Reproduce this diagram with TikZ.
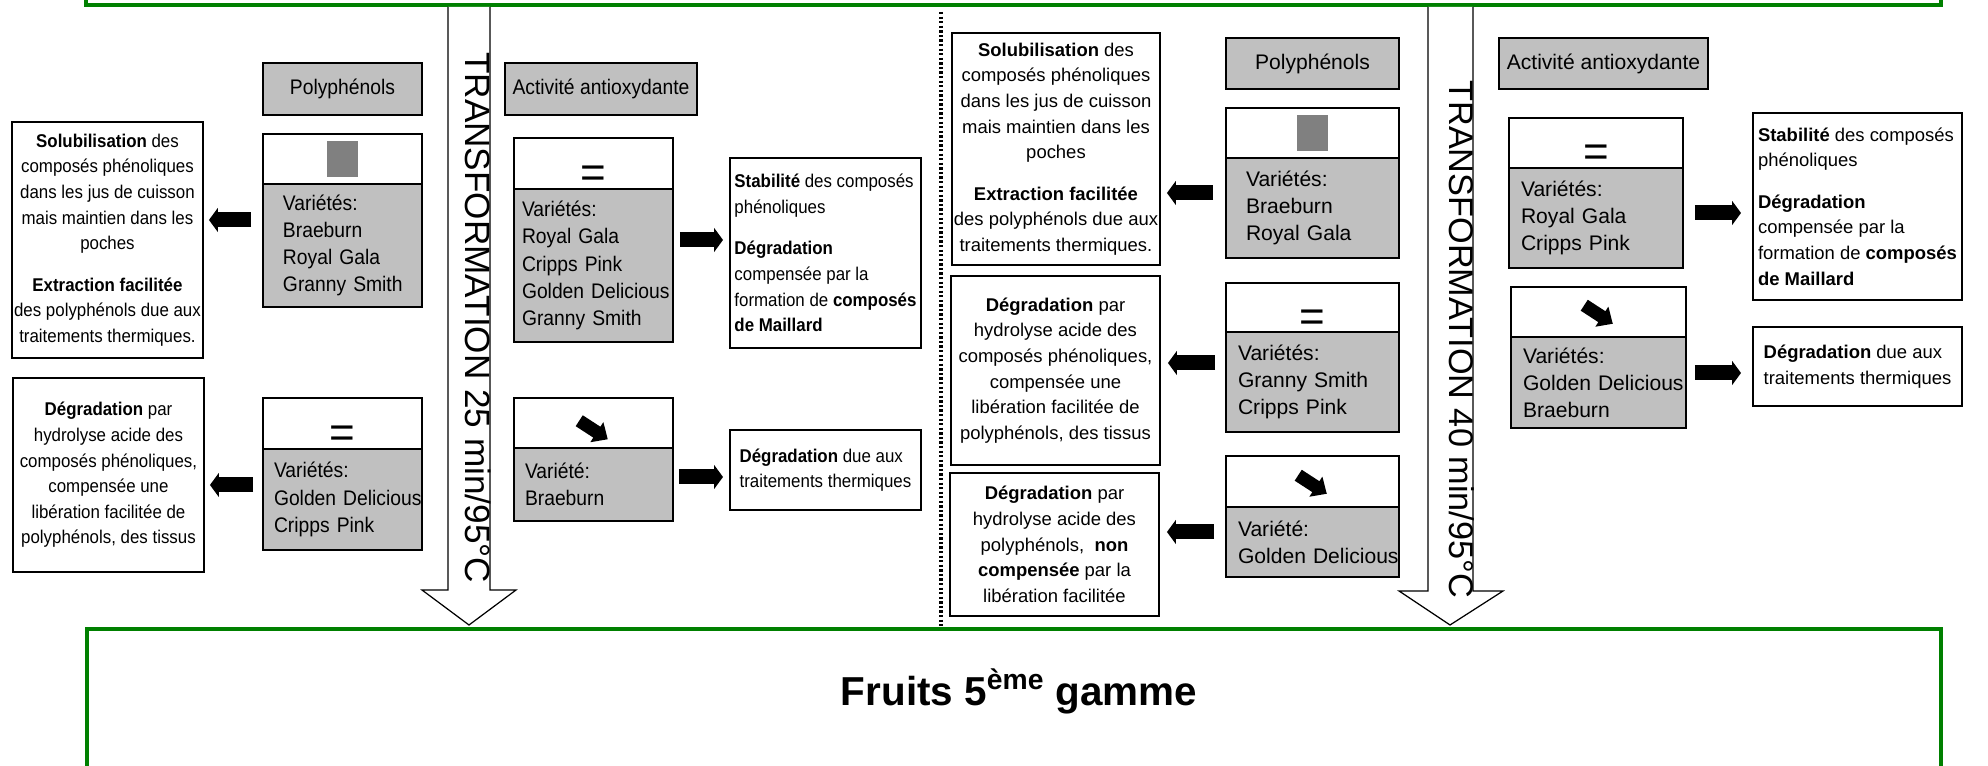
\documentclass[tikz,border=0pt]{standalone}
\usepackage{fontspec}
\setmainfont{Liberation Sans}
\newfontfamily\narrowfont[FakeStretch=0.915]{Liberation Sans}
\usetikzlibrary{arrows.meta,positioning}

\newlength\pxu
\setlength\pxu{0.02cm}

\definecolor{boxgray}{RGB}{192,192,192}
\definecolor{icongray}{RGB}{128,128,128}
\definecolor{framegreen}{RGB}{0,128,0}

\tikzset{
  lbl/.style={draw, line width=1.1pt, fill=boxgray, inner sep=0pt, outer sep=0pt, anchor=north west, font=\fontsize{12}{14}\selectfont},
  headbox/.style={draw, line width=1.1pt, fill=white, inner sep=0pt, outer sep=0pt, anchor=north west},
  bodybox/.style={draw, line width=1.1pt, fill=boxgray, inner sep=0pt, outer sep=0pt, align=left, font=\fontsize{12}{15.4}\selectfont},
  txtbox/.style={draw, line width=1.2pt, fill=white, inner sep=0pt, outer sep=0pt, anchor=north west, align=center, font=\fontsize{10.5}{14.6}\selectfont},
  lefttxt/.style={txtbox, align=left},
  eqsign/.style={font=\fontsize{25}{25}\selectfont, text height=27pt, text depth=0pt},
  sqicon/.style={fill=icongray, inner sep=0pt, minimum width=0.63cm, minimum height=0.73cm},
  fatarrow/.style={line width=0.3cm, -{Triangle[length=0.18cm, width=0.48cm]}},
  hollow/.style={draw, line width=0.7pt, fill=white},
  turn/.style={rotate=-90, anchor=base west, inner sep=0pt, font=\fontsize{20}{24}\selectfont},
  frame/.style={draw=framegreen, line width=2.2pt},
  decr/.pic={\fill (-17,-6.5) -- (4,-6.5) -- (4,-12) -- (17,0) -- (4,12) -- (4,6.5) -- (-17,6.5) -- cycle;}
}

\begin{document}
\begin{tikzpicture}[x=\pxu, y=-\pxu]
\useasboundingbox (0,0) rectangle (1988,766);

% green frames
\draw[frame] (86,-30) |- (1941,5) -- (1941,-30);
\draw[frame] (87,800) |- (1941,629) -- (1941,800);
\node[font=\bfseries\fontsize{23}{27}\selectfont] (fruits) at (1019,691) {Fruits 5\textsuperscript{ème} gamme};

% separator
\draw[line width=1.8pt, dash pattern=on 1.3pt off 1.3pt] (941,12) -- (941,627);

% transformation arrows
\draw[hollow] (448,7) -- (448,590) -- (422,590) -- (469,625) -- (516,590) -- (490,590) -- (490,7);
\node[turn] (t25) at (465,52) {TRANSFORMATION 25 min/95°C};
\draw[hollow] (1428,7) -- (1428,591) -- (1399,591) -- (1450,625) -- (1503,591) -- (1473,591) -- (1473,7);
\node[turn, font=\fontsize{19.5}{24}\selectfont] (t40) at (1449,80) {TRANSFORMATION 40 min/95°C};

% 25 min
\begin{scope}[lbl/.append style={font=\narrowfont\fontsize{12}{14}\selectfont},
  bodybox/.append style={font=\narrowfont\fontsize{12}{15.4}\selectfont},
  txtbox/.append style={font=\narrowfont\fontsize{10.5}{14.6}\selectfont}]
\node[lbl, minimum width=3.18cm, minimum height=1.04cm] (polyA) at (263,63) {Polyphénols};
\node[headbox, minimum width=3.18cm, minimum height=1cm] (p1h) at (263,134) {};
\node[sqicon] (p1i) at (p1h.center) {};
\node[bodybox, below=0pt of p1h, minimum width=3.18cm, minimum height=2.46cm, text width=2.38cm] (p1) {Variétés:\\Braeburn\\Royal Gala\\\mbox{Granny Smith}};
\node[headbox, eqsign, minimum width=3.18cm, minimum height=1.02cm] (p2h) at (263,398) {=};
\node[bodybox, below=0pt of p2h, minimum width=3.18cm, minimum height=2.02cm, text width=2.74cm] (p2) {Variétés:\\\mbox{Golden Delicious}\\Cripps Pink};
\node[txtbox, minimum width=3.82cm, minimum height=4.72cm] (s1) at (12,122) {\textbf{Solubilisation} des\\composés phénoliques\\dans les jus de cuisson\\mais maintien dans les\\poches\\[9pt]\textbf{Extraction facilitée}\\des polyphénols due aux\\traitements thermiques.};
\node[txtbox, minimum width=3.82cm, minimum height=3.88cm] (d1) at (13,378) {\textbf{Dégradation} par\\hydrolyse acide des\\composés phénoliques,\\compensée une\\libération facilitée de\\polyphénols, des tissus};
\draw[fatarrow, shorten <=0.24cm, shorten >=0.12cm] ([yshift=0.51cm]p1.west) -- ([yshift=0.51cm]p1.west -| s1.east);
\draw[fatarrow, shorten <=0.2cm, shorten >=0.12cm] ([yshift=0.29cm]p2.west) -- ([yshift=0.29cm]p2.west -| d1.east);

\node[lbl, minimum width=3.84cm, minimum height=1.04cm] (antiA) at (505,63) {Activité antioxydante};
\node[headbox, eqsign, minimum width=3.18cm, minimum height=1.02cm] (a1h) at (514,138) {=};
\node[bodybox, below=0pt of a1h, minimum width=3.18cm, minimum height=3.06cm, text width=2.86cm] (a1) {Variétés:\\Royal Gala\\Cripps Pink\\\mbox{Golden Delicious}\\\mbox{Granny Smith}};
\node[headbox, minimum width=3.18cm, minimum height=1cm] (a2h) at (514,398) {};
\pic[rotate=-33] at ([yshift=-0.14cm]a2h.center) {decr};
\node[bodybox, below=0pt of a2h, minimum width=3.18cm, minimum height=1.46cm, text width=2.74cm] (a2) {Variété:\\Braeburn};
\node[lefttxt, minimum width=3.82cm, minimum height=3.8cm] (r1) at (730,158) {\textbf{Stabilité} des composés\\phénoliques\\[9pt]\textbf{Dégradation}\\compensée par la\\formation de \textbf{composés}\\\textbf{de Maillard}};
\node[lefttxt, minimum width=3.82cm, minimum height=1.6cm] (r2) at (730,430) {\textbf{Dégradation} due aux\\traitements thermiques};
\draw[fatarrow, shorten <=0.14cm, shorten >=0.14cm] ([yshift=0.51cm]a1.east) -- ([yshift=0.51cm]a1.east -| r1.west);
\draw[fatarrow, shorten <=0.12cm, shorten >=0.14cm] ([yshift=0.15cm]a2.east) -- ([yshift=0.15cm]a2.east -| r2.west);
\end{scope}

% 40 min
\node[lbl, minimum width=3.46cm, minimum height=1.02cm] (polyB) at (1226,38) {Polyphénols};
\node[headbox, minimum width=3.46cm, minimum height=1cm] (c1h) at (1226,108) {};
\node[sqicon] (c1i) at (c1h.center) {};
\node[bodybox, below=0pt of c1h, minimum width=3.46cm, minimum height=2cm, text width=2.66cm] (c1) {Variétés:\\Braeburn\\Royal Gala};
\node[headbox, eqsign, minimum width=3.46cm, minimum height=0.98cm] (c2h) at (1226,283) {=};
\node[bodybox, below=0pt of c2h, minimum width=3.46cm, minimum height=2cm, text width=2.98cm] (c2) {Variétés:\\\mbox{Granny Smith}\\Cripps Pink};
\node[headbox, minimum width=3.46cm, minimum height=1.02cm] (c3h) at (1226,456) {};
\pic[rotate=-33] at ([yshift=-0.06cm]c3h.center) {decr};
\node[bodybox, below=0pt of c3h, minimum width=3.46cm, minimum height=1.4cm, text width=2.98cm] (c3) {Variété:\\\mbox{Golden Delicious}};
\node[txtbox, minimum width=4.16cm, minimum height=4.64cm] (s2) at (952,33) {\textbf{Solubilisation} des\\composés phénoliques\\dans les jus de cuisson\\mais maintien dans les\\poches\\[9pt]\textbf{Extraction facilitée}\\des polyphénols due aux\\traitements thermiques.};
\node[txtbox, minimum width=4.18cm, minimum height=3.78cm] (d2) at (951,276) {\textbf{Dégradation} par\\hydrolyse acide des\\composés phénoliques,\\compensée une\\libération facilitée de\\polyphénols, des tissus};
\node[txtbox, minimum width=4.18cm, minimum height=2.86cm] (d3) at (950,473) {\textbf{Dégradation} par\\hydrolyse acide des\\polyphénols,~ \textbf{non}\\\textbf{compensée} par la\\libération facilitée};
\draw[fatarrow, shorten <=0.26cm, shorten >=0.14cm] ([yshift=0.3cm]c1.west) -- ([yshift=0.3cm]c1.west -| s2.east);
\draw[fatarrow, shorten <=0.22cm, shorten >=0.16cm] ([yshift=0.38cm]c2.west) -- ([yshift=0.38cm]c2.west -| d2.east);
\draw[fatarrow, shorten <=0.24cm, shorten >=0.16cm] ([yshift=0.2cm]c3.west) -- ([yshift=0.2cm]c3.west -| d3.east);

\node[lbl, minimum width=4.18cm, minimum height=1.02cm] (antiB) at (1499,38) {Activité antioxydante};
\node[headbox, eqsign, minimum width=3.48cm, minimum height=1cm] (e1h) at (1509,118) {=};
\node[bodybox, below=0pt of e1h, minimum width=3.48cm, minimum height=2cm, text width=3cm] (e1) {Variétés:\\Royal Gala\\Cripps Pink};
\node[headbox, minimum width=3.5cm, minimum height=1cm] (e2h) at (1511,287) {};
\pic[rotate=-33] at ([yshift=-0.05cm]e2h.center) {decr};
\node[bodybox, below=0pt of e2h, minimum width=3.5cm, minimum height=1.82cm, text width=3.02cm] (e2) {Variétés:\\\mbox{Golden Delicious}\\Braeburn};
\node[lefttxt, minimum width=4.18cm, minimum height=3.74cm] (r3) at (1753,113) {\textbf{Stabilité} des composés\\phénoliques\\[9pt]\textbf{Dégradation}\\compensée par la\\formation de \textbf{composés}\\\textbf{de Maillard}};
\node[lefttxt, minimum width=4.18cm, minimum height=1.58cm] (r4) at (1753,327) {\textbf{Dégradation} due aux\\traitements thermiques};
\draw[fatarrow, shorten <=0.24cm, shorten >=0.24cm] ([yshift=0.1cm]e1.east) -- ([yshift=0.1cm]e1.east -| r3.west);
\draw[fatarrow, shorten <=0.18cm, shorten >=0.24cm] ([yshift=0.19cm]e2.east) -- ([yshift=0.19cm]e2.east -| r4.west);
\end{tikzpicture}
\end{document}
